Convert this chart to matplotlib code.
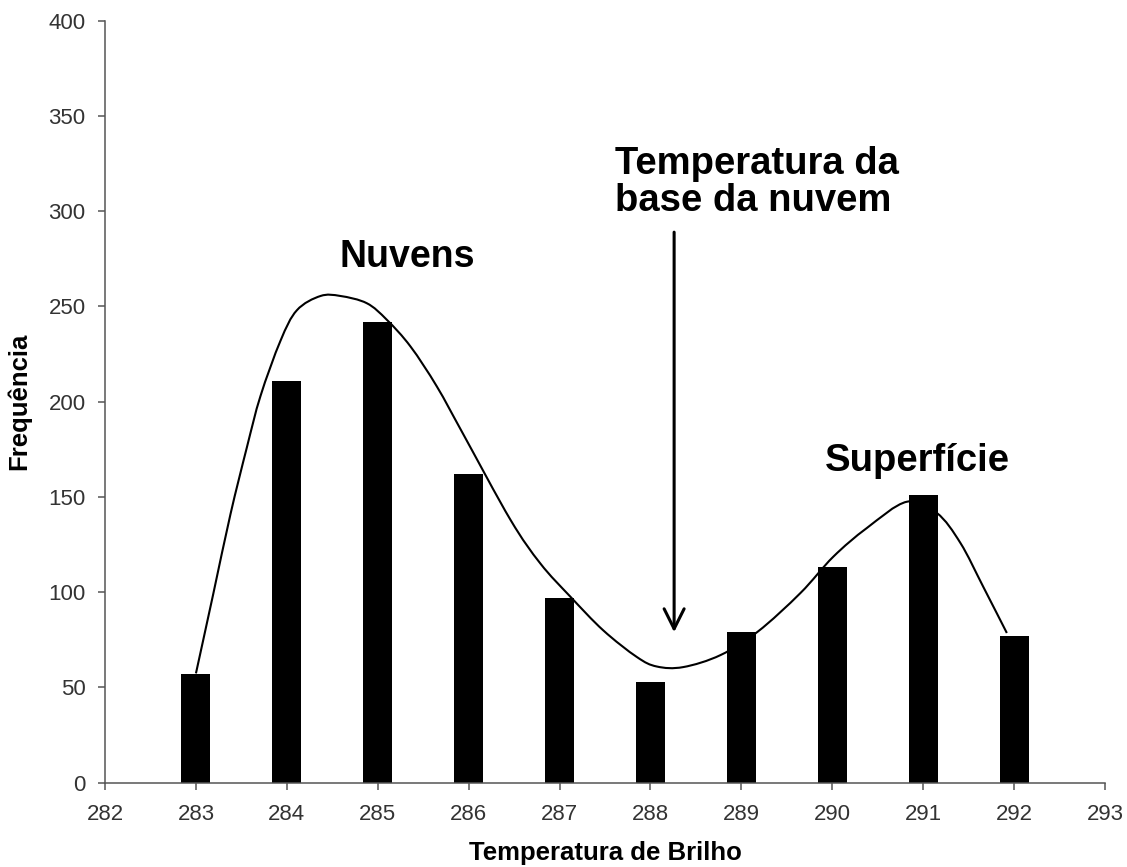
import matplotlib
matplotlib.use('Agg')
import matplotlib.pyplot as plt
import numpy as np
from matplotlib.path import Path
from matplotlib.patches import PathPatch

plt.rcParams['font.family'] = ['Liberation Sans', 'DejaVu Sans']

# Histogram bars
temps = [283, 284, 285, 286, 287, 288, 289, 290, 291, 292]
freqs = [57, 211, 242, 162, 97, 53, 79, 113, 151, 77]

# Points read along the smooth curve drawn over the bars
curve_x = [283.0, 283.19, 283.38, 283.56, 283.71, 283.93, 284.11, 284.37, 284.59,
           284.88, 285.10, 285.36, 285.65, 285.94, 286.46, 286.79, 287.12, 287.48,
           287.85, 288.07, 288.36, 288.77, 289.18, 289.65, 290.01, 290.38, 290.82,
           291.15, 291.41, 291.66, 291.92]
curve_y = [57.4, 99, 141, 176, 203, 232, 248, 255.5, 255.5,
           251.7, 243, 229, 208, 183, 138, 115, 97.6, 80,
           66, 61, 60.7, 67, 79.3, 99.6, 118.6, 133.7, 147.5,
           141.6, 125.8, 102.9, 78.6]

x_ticks = list(range(282, 294))
y_ticks = list(range(0, 401, 50))


def smooth_path(xs, ys):
    # Catmull-Rom through the points, drawn as cubic Bezier segments
    pts = np.column_stack([xs, ys])
    verts = [pts[0]]
    codes = [Path.MOVETO]
    n = len(pts)
    for i in range(n - 1):
        p0 = pts[i - 1] if i > 0 else pts[i]
        p1 = pts[i]
        p2 = pts[i + 1]
        p3 = pts[i + 2] if i + 2 < n else pts[i + 1]
        c1 = p1 + (p2 - p0) / 6.0
        c2 = p2 - (p3 - p1) / 6.0
        verts += [c1, c2, p2]
        codes += [Path.CURVE4] * 3
    return Path(verts, codes)


fig = plt.figure(figsize=(11.27, 8.67), dpi=100)
ax = fig.add_axes([0.0932, 0.0972, 0.8873, 0.8789])

ax.bar(temps, freqs, width=0.32, color='black', zorder=2)

ax.add_patch(PathPatch(smooth_path(curve_x, curve_y), fill=False,
                       edgecolor='black', lw=1.5, zorder=3))

ax.set_xlim(282, 293)
ax.set_ylim(0, 400)
ax.set_xticks(x_ticks)
ax.set_yticks(y_ticks)

for spine in ax.spines.values():
    spine.set_visible(False)
ax.spines['left'].set_visible(True)
ax.spines['bottom'].set_visible(True)
for s in ['left', 'bottom']:
    ax.spines[s].set_color('#555555')
    ax.spines[s].set_linewidth(1.1)

ax.tick_params(axis='both', direction='out', length=5, width=1.1,
               color='#555555', labelcolor='#333333', labelsize=16)
ax.tick_params(axis='x', pad=10)
ax.tick_params(axis='y', pad=9)

ax.set_xlabel('Temperatura de Brilho', fontsize=18.5, fontweight='bold', labelpad=12)
ax.set_ylabel('Frequência', fontsize=18.5, fontweight='bold', labelpad=12)

# Annotations
ax.text(285.32, 276, 'Nuvens', fontsize=27, fontweight='bold',
        ha='center', va='center')
ax.text(290.94, 169, 'Superfície', fontsize=27.5, fontweight='bold',
        ha='center', va='center')
ax.text(287.61, 334, 'Temperatura da\nbase da nuvem', fontsize=27.5,
        fontweight='bold', ha='left', va='top', linespacing=1.02)
ax.annotate('', xy=(288.26, 79), xytext=(288.26, 289),
            arrowprops=dict(arrowstyle='->,head_length=0.72,head_width=0.36',
                            lw=2.2, color='black', mutation_scale=20,
                            shrinkA=0, shrinkB=0))

fig.savefig('out.png', dpi=100)
